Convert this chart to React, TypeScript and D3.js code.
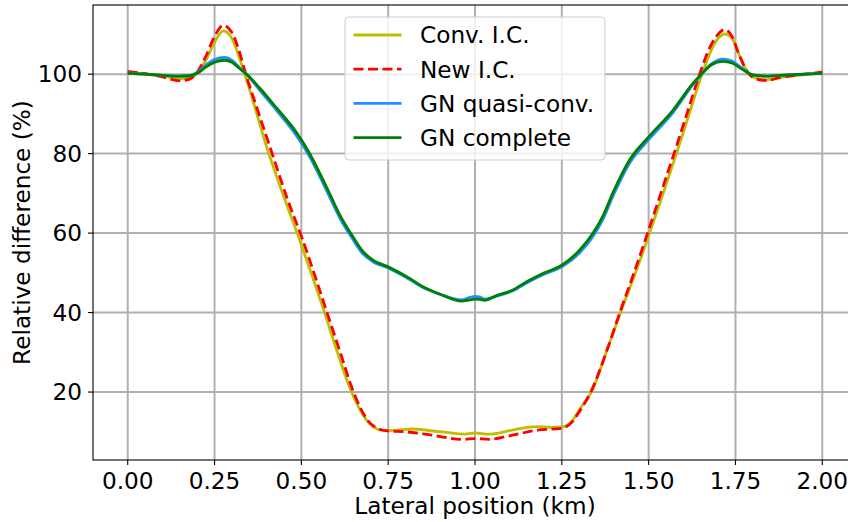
import React from "react";
import * as d3 from "d3";

// ---------- data ----------
const convX = [0.0, 0.05, 0.1, 0.15, 0.18, 0.2, 0.225, 0.25, 0.275, 0.3, 0.32, 0.337, 0.36, 0.399, 0.45, 0.49, 0.53, 0.565, 0.6, 0.642, 0.687, 0.73, 0.75, 0.8, 0.82, 0.88, 0.93, 0.965, 1.0, 1.04, 1.1, 1.15, 1.18, 1.22, 1.25, 1.282, 1.3, 1.338, 1.38, 1.421, 1.46, 1.5, 1.54, 1.58, 1.615, 1.652, 1.68, 1.7, 1.72, 1.74, 1.76, 1.785, 1.81, 1.84, 1.88, 1.95, 2.0];
const convY = [100.5, 100.1, 99.6, 98.8, 99.0, 100.3, 103.5, 108.0, 110.9, 109.0, 104.5, 100, 93.5, 82, 69, 59.5, 49.5, 40.5, 31, 20.5, 13, 10.4, 10.3, 10.6, 10.7, 10.2, 9.7, 9.4, 9.7, 9.4, 10.3, 11.1, 11.3, 11.1, 11.2, 13, 15.5, 20.5, 30.5, 40.5, 49.5, 59.3, 69.5, 80, 89.5, 99.5, 106, 109, 110.1, 109, 105, 100.5, 99, 98.6, 99.2, 99.9, 100.3];

const newX = [0.0, 0.05, 0.1, 0.15, 0.18, 0.2, 0.225, 0.25, 0.275, 0.3, 0.32, 0.34, 0.37, 0.414, 0.46, 0.503, 0.54, 0.572, 0.61, 0.648, 0.69, 0.73, 0.75, 0.8, 0.85, 0.9, 0.965, 1.0, 1.04, 1.1, 1.18, 1.25, 1.28, 1.3, 1.336, 1.38, 1.419, 1.458, 1.495, 1.535, 1.575, 1.61, 1.645, 1.67, 1.695, 1.719, 1.74, 1.76, 1.785, 1.81, 1.839, 1.88, 1.95, 2.0];
const newY = [100.7, 100.1, 99.3, 98.3, 98.8, 100.5, 104.5, 109.5, 112.3, 110.5, 106, 100, 92, 80.5, 68.5, 58.5, 49, 40.5, 30.5, 20.5, 13, 10.5, 10.2, 10.0, 9.5, 8.8, 8.1, 8.3, 8.1, 9.0, 10.4, 10.9, 12.5, 15, 20.5, 30.5, 40.5, 50, 59.5, 70, 80.5, 90, 99.5, 105.5, 109.5, 111.2, 109.5, 105, 100.5, 98.8, 98.4, 99.2, 100.0, 100.5];

const gnX = [0.0, 0.05, 0.1, 0.15, 0.18, 0.2, 0.225, 0.25, 0.279, 0.3, 0.32, 0.342, 0.38, 0.418, 0.45, 0.486, 0.524, 0.55, 0.582, 0.614, 0.644, 0.675, 0.706, 0.75, 0.812, 0.85, 0.9, 0.961, 0.985, 1.0, 1.015, 1.028, 1.06, 1.109, 1.15, 1.2, 1.25, 1.301, 1.34, 1.369, 1.398, 1.445, 1.5, 1.57, 1.628, 1.652, 1.68, 1.714, 1.74, 1.77, 1.8, 1.84, 1.9, 2.0];
const quasiY = [100.3, 100.0, 99.7, 99.5, 99.7, 100.4, 102.3, 103.7, 104.2, 103.5, 101.8, 100, 96, 92, 88.6, 84.5, 79.2, 74.8, 69, 63.3, 59, 55, 52.8, 51.2, 48.3, 46.3, 44.6, 43.2, 43.8, 44.1, 43.9, 43.4, 44.1, 45.5, 47.5, 49.7, 51.5, 55, 59.2, 63.6, 69.5, 77.6, 83.5, 90.3, 97.4, 99.9, 102.5, 103.8, 103.3, 101.4, 99.8, 99.5, 99.8, 100.2];
const completeY = [100.2, 100.0, 99.7, 99.5, 99.6, 100.2, 101.8, 103.0, 103.5, 103.0, 101.6, 100, 96.5, 92.6, 89.3, 85.3, 80, 75.6, 69.8, 64, 59.7, 55.6, 53.2, 51.5, 48.6, 46.5, 44.6, 42.9, 43.2, 43.4, 43.3, 43.1, 44.2, 45.7, 47.8, 50.0, 51.9, 55.7, 60, 64.4, 70.3, 78.4, 84.2, 90.9, 97.7, 100, 102.3, 103.2, 102.8, 101.2, 99.8, 99.5, 99.8, 100.2];

const xTicks = [0, 0.25, 0.5, 0.75, 1.0, 1.25, 1.5, 1.75, 2.0];
const yTicks = [20, 40, 60, 80, 100];
const seriesNames = ["Conv. I.C.", "New I.C.", "GN quasi-conv.", "GN complete"];

// ---------- layout ----------
const W = 848, H = 522;
const L = 93, R = 857, T = 5, B = 460;
const FONT = "'DejaVu Sans', sans-serif";
const FS = 23.2;

export default function App() {
  const x = d3.scaleLinear().domain([-0.1, 2.1]).range([L, R]);
  const y = d3.scaleLinear().domain([2.9, 117.4]).range([B, T]);

  const mk = (xs: number[], ys: number[]) =>
    d3.line<number>()
      .x((_, i) => x(xs[i]))
      .y((v) => y(v))
      .curve(d3.curveMonotoneX)(ys) || "";

  const series = [
    { name: seriesNames[0], d: mk(convX, convY), color: "#bfbf00", dash: undefined as string | undefined },
    { name: seriesNames[1], d: mk(newX, newY), color: "#ff0000", dash: "10,4.5" },
    { name: seriesNames[2], d: mk(gnX, quasiY), color: "#1e90ff", dash: undefined },
    { name: seriesNames[3], d: mk(gnX, completeY), color: "#008000", dash: undefined },
  ];

  const lgX = 345, lgY = 17, lgW = 260, lgH = 143, rowH = 34.2;

  return (
    <svg width={W} height={H} style={{ position: "absolute", left: 0, top: 0, background: "#fff" }}>
      <defs>
        <clipPath id="plot">
          <rect x={L} y={T} width={R - L} height={B - T} />
        </clipPath>
      </defs>
      {/* grid */}
      <g stroke="#b0b0b0" strokeWidth={2}>
        {xTicks.map((t) => (
          <line key={"gx" + t} x1={x(t)} x2={x(t)} y1={T} y2={B} />
        ))}
        {yTicks.map((t) => (
          <line key={"gy" + t} x1={L} x2={R} y1={y(t)} y2={y(t)} />
        ))}
      </g>
      {/* lines */}
      <g clipPath="url(#plot)" fill="none" strokeWidth={2.8} strokeLinejoin="round">
        {series.map((s) => (
          <path key={s.name} d={s.d} stroke={s.color} strokeDasharray={s.dash} />
        ))}
      </g>
      {/* spines */}
      <rect x={L} y={T} width={R - L} height={B - T} fill="none" stroke="#000" strokeWidth={1.1} />
      {/* ticks */}
      <g stroke="#000" strokeWidth={1.1}>
        {xTicks.map((t) => (
          <line key={"tx" + t} x1={x(t)} x2={x(t)} y1={B} y2={B + 5} />
        ))}
        {yTicks.map((t) => (
          <line key={"ty" + t} x1={L - 5} x2={L} y1={y(t)} y2={y(t)} />
        ))}
      </g>
      <g fontFamily={FONT} fontSize={FS} fill="#000">
        {xTicks.map((t) => (
          <text key={"lx" + t} x={x(t)} y={488.5} textAnchor="middle">
            {d3.format(".2f")(t)}
          </text>
        ))}
        {yTicks.map((t) => (
          <text key={"ly" + t} x={82} y={y(t) + 8.3} textAnchor="end">
            {t}
          </text>
        ))}
        <text x={(L + R) / 2} y={513.5} textAnchor="middle">Lateral position (km)</text>
        <text transform={`translate(30,${(T + B) / 2}) rotate(-90)`} textAnchor="middle">
          Relative difference (%)
        </text>
      </g>
      {/* legend */}
      <g>
        <rect x={lgX} y={lgY} width={lgW} height={lgH} rx={4} fill="#fff" fillOpacity={0.8} stroke="#cccccc" strokeWidth={1} />
        {series.map((s, i) => {
          const cy = 35 + i * rowH;
          return (
            <g key={"lg" + s.name}>
              <line x1={353.5} x2={401.5} y1={cy} y2={cy} stroke={s.color} strokeWidth={2.8} strokeDasharray={s.dash} />
              <text x={420} y={cy + 8.3} fontFamily={FONT} fontSize={FS} fill="#000">
                {s.name}
              </text>
            </g>
          );
        })}
      </g>
    </svg>
  );
}
